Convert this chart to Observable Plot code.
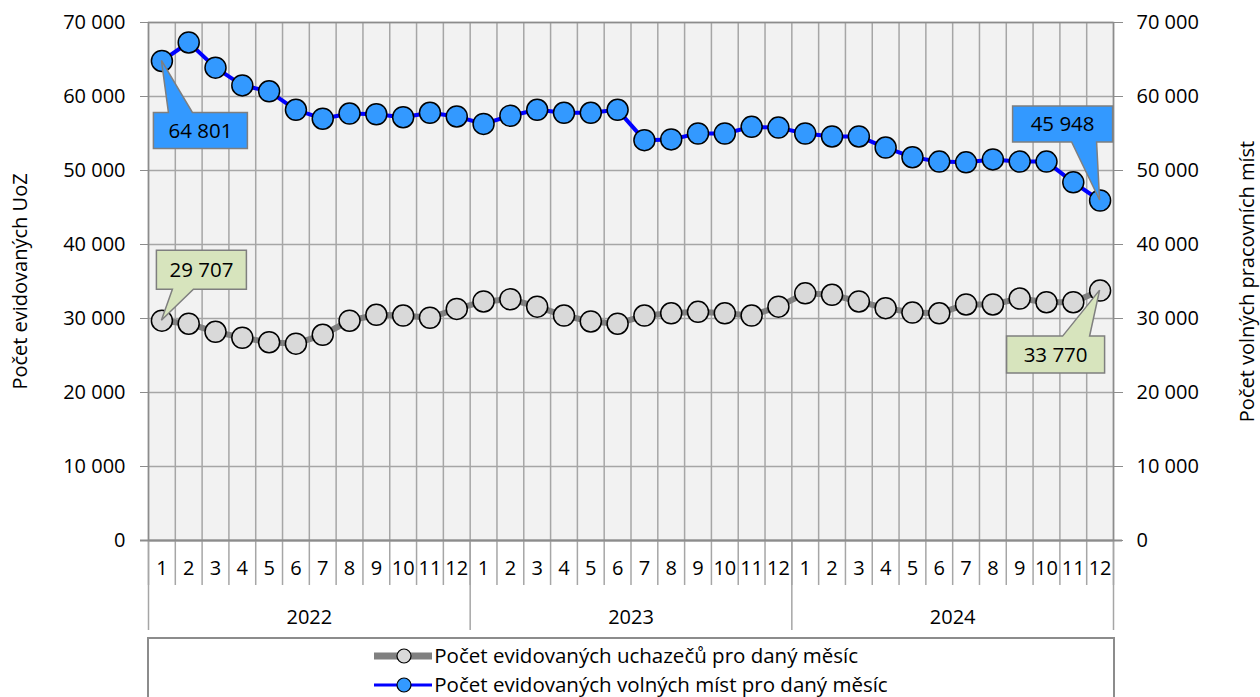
<!DOCTYPE html>
<html><head><meta charset="utf-8">
<script src="https://cdn.jsdelivr.net/npm/d3@7"></script>
<script src="https://cdn.jsdelivr.net/npm/@observablehq/plot@0.6"></script>
<style>
body{margin:0;background:#fff;font-family:"Open Sans",sans-serif;}
#wrap{position:relative;width:1260px;height:697px;overflow:hidden;}
#legend{position:absolute;left:147px;top:637px;width:964px;height:90px;border:2px solid #8c8c8c;border-bottom:none;background:#fff;text-align:center;}
#legend .inner{display:inline-block;text-align:left;padding-top:2px;}
#legend .row{height:29px;line-height:29px;font-size:20.5px;color:#000;white-space:nowrap;}
#legend svg{vertical-align:middle;margin-right:2px;position:relative;top:-2px;}
</style></head>
<body><div id="wrap"><div id="chart"></div><div id="legend"><div class="inner" id="legendInner"></div></div></div>
<script>
// ---- data ----
const years = [2022, 2023, 2024];
const monthLabels = ["1","2","3","4","5","6","7","8","9","10","11","12"];
const uchazeci = [29707, 29300, 28200, 27400, 26800, 26600, 27800, 29700, 30500, 30400, 30100, 31300,
                  32300, 32600, 31600, 30400, 29600, 29300, 30400, 30700, 30900, 30700, 30400, 31600,
                  33400, 33200, 32300, 31400, 30800, 30700, 31900, 31900, 32700, 32200, 32200, 33770];
const mista = [64801, 67300, 63900, 61500, 60700, 58200, 57000, 57700, 57600, 57200, 57800, 57300,
               56300, 57400, 58200, 57800, 57800, 58200, 54100, 54200, 55000, 55000, 55900, 55800,
               55000, 54600, 54600, 53100, 51800, 51200, 51100, 51500, 51200, 51200, 48400, 45948];
const yTicks = [0, 10000, 20000, 30000, 40000, 50000, 60000, 70000];
const seriesNames = ["Počet evidovaných uchazečů pro daný měsíc", "Počet evidovaných volných míst pro daný měsíc"];
const axisTitles = ["Počet evidovaných UoZ", "Počet volných pracovních míst"];

// ---- build ----
const nMonths = years.length * 12;
const fmt = d3.formatLocale({decimal: ",", thousands: "\u00a0", grouping: [3], currency: ["", ""]}).format(",");
const rowsU = uchazeci.map((v, i) => ({i, v}));
const rowsM = mista.map((v, i) => ({i, v}));
const months = d3.range(nMonths);
const bounds = d3.range(nMonths + 1);
const yearBounds = d3.range(years.length + 1).map(k => k * 12);

const gray = {line: "#808080", fill: "#d9d9d9"};
const blue = {line: "#0000ff", fill: "#3399ff"};

// callout styles: box relative to anchor point, pointer base on top or bottom side
const callouts = [
  {data: mista, idx: 0, fill: "#3399ff", box: [-8, 52, 86, 88], side: "top", base: [7, 31]},
  {data: mista, idx: nMonths - 1, fill: "#3399ff", box: [-87, -94, 13, -58], side: "bottom", base: [-28, -3]},
  {data: uchazeci, idx: 0, fill: "#d7e4bd", box: [-5, -70, 85, -31], side: "bottom", base: [11, 32]},
  {data: uchazeci, idx: nMonths - 1, fill: "#d7e4bd", box: [-93, 46, 5, 83], side: "top", base: [-37, -10]}
];

function calloutMark(index, scales) {
  const g = d3.create("svg:g");
  for (const c of callouts) {
    const px = scales.x(c.idx + 0.5), py = scales.y(c.data[c.idx]);
    const [x0, y0, x1, y1] = c.box, [a, b] = c.base;
    let p;
    if (c.side === "top") p = `M${x0},${y0}L${a},${y0}L0,0L${b},${y0}L${x1},${y0}L${x1},${y1}L${x0},${y1}Z`;
    else p = `M${x0},${y0}L${x1},${y0}L${x1},${y1}L${b},${y1}L0,0L${a},${y1}L${x0},${y1}Z`;
    const gg = g.append("g").attr("transform", `translate(${px},${py})`);
    gg.append("path").attr("d", p).attr("fill", c.fill).attr("stroke", "#7f7f7f").attr("stroke-width", 1.5);
    gg.append("text").attr("x", (x0 + x1) / 2).attr("y", (y0 + y1) / 2).attr("text-anchor", "middle")
      .attr("dy", "0.35em").attr("font-size", 20.5).attr("fill", "#000").text(fmt(c.data[c.idx]));
  }
  return g.node();
}

const chart = Plot.plot({
  width: 1260,
  height: 637,
  marginLeft: 148,
  marginRight: 147,
  marginTop: 22,
  marginBottom: 97,
  style: {fontFamily: "Open Sans, sans-serif", fontSize: "20px", background: "#fff", overflow: "visible"},
  x: {domain: [0, nMonths], axis: null},
  y: {domain: [0, 70000]},
  marks: [
    Plot.frame({fill: "#f2f2f2"}),
    Plot.ruleY(yTicks, {stroke: "#a6a6a6", strokeWidth: 1.5}),
    Plot.ruleX(bounds, {stroke: "#a6a6a6", strokeWidth: 1.5}),
    Plot.frame({stroke: "#8c8c8c", strokeWidth: 1.5}),
    // lower axis separators
    Plot.ruleX(bounds, {x: d => d, y1: 0, y2: 0, insetBottom: -45, stroke: "#a6a6a6", strokeWidth: 1.5}),
    Plot.ruleX(yearBounds, {x: d => d, y1: 0, y2: 0, insetBottom: -90, stroke: "#a6a6a6", strokeWidth: 1.5}),
    Plot.ruleY([0], {stroke: "#8c8c8c", strokeWidth: 2, insetLeft: -8, insetRight: -9}),
    Plot.text(months, {x: i => i + 0.5, y: 0, dy: 28, text: i => monthLabels[i % 12], fontSize: 20, fill: "#000"}),
    Plot.text(years, {x: (d, k) => k * 12 + 6, y: 0, dy: 77, text: d => String(d), fontSize: 20, fill: "#000"}),
    Plot.axisY({anchor: "left", ticks: yTicks, tickFormat: fmt, tickSize: 8, tickPadding: 15, label: null, stroke: "#8c8c8c", fill: "#000", fontSize: 20}),
    Plot.axisY({anchor: "right", ticks: yTicks, tickFormat: fmt, tickSize: 9, tickPadding: 14, label: null, stroke: "#8c8c8c", fill: "#000", fontSize: 20}),
    Plot.text([axisTitles[0]], {frameAnchor: "left", textAnchor: "middle", dx: -128, rotate: -90, fontSize: 20, fill: "#000"}),
    Plot.text([axisTitles[1]], {frameAnchor: "right", textAnchor: "middle", dx: 134, rotate: -90, fontSize: 20, fill: "#000"}),
    // series
    Plot.line(rowsU, {x: d => d.i + 0.5, y: "v", stroke: gray.line, strokeWidth: 6}),
    Plot.dot(rowsU, {x: d => d.i + 0.5, y: "v", r: 10.5, fill: gray.fill, stroke: "#000", strokeWidth: 1.5}),
    Plot.line(rowsM, {x: d => d.i + 0.5, y: "v", stroke: blue.line, strokeWidth: 4}),
    Plot.dot(rowsM, {x: d => d.i + 0.5, y: "v", r: 10.5, fill: blue.fill, stroke: "#000", strokeWidth: 1.5}),
    calloutMark
  ]
});
document.getElementById("chart").appendChild(chart);

// legend
const legendInner = document.getElementById("legendInner");
[[gray, 7], [blue, 3]].forEach(([s, w], k) => {
  const row = document.createElement("div");
  row.className = "row";
  row.innerHTML = `<svg width="58" height="20"><line x1="0" x2="58" y1="10" y2="10" stroke="${s.line}" stroke-width="${w}" stroke-linecap="round"/><circle cx="30" cy="10" r="7" fill="${s.fill}" stroke="#000" stroke-width="1.2"/></svg>`;
  row.appendChild(document.createTextNode(seriesNames[k]));
  legendInner.appendChild(row);
});
</script></body></html>
